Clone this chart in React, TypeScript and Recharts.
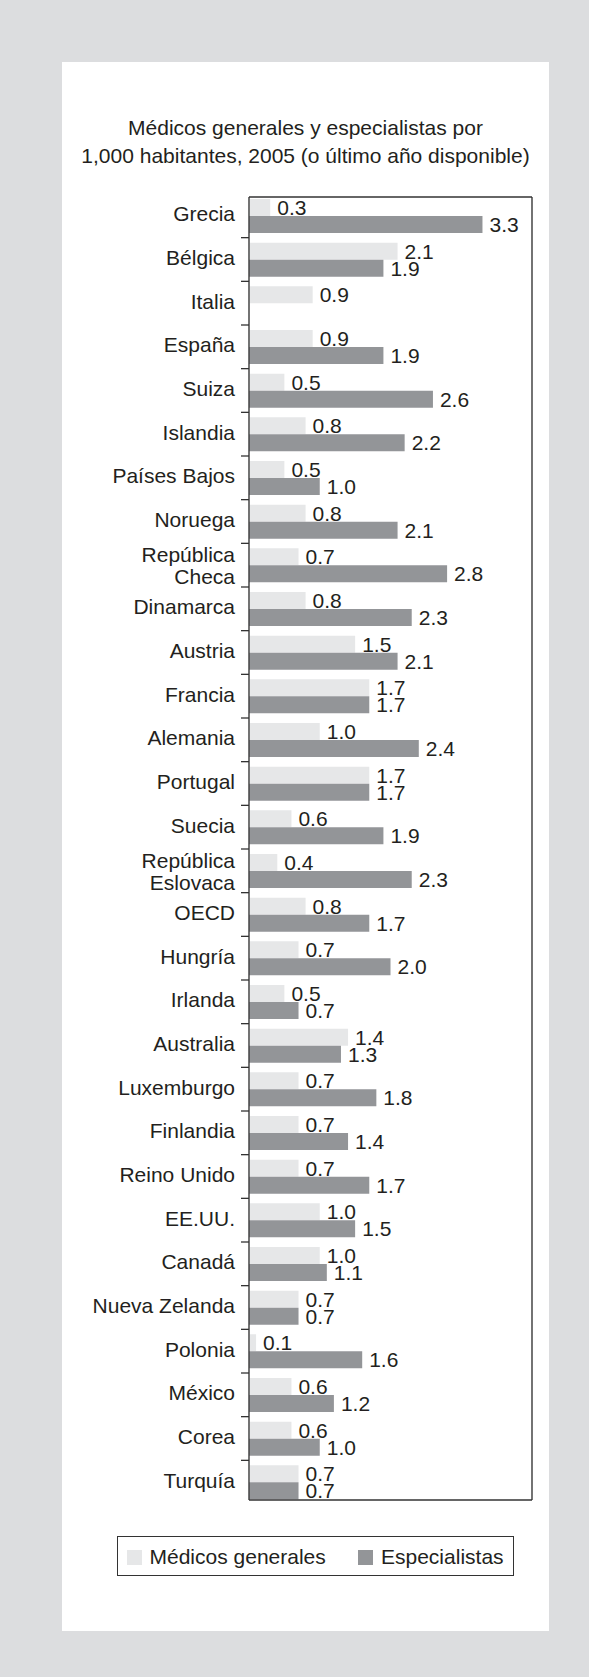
import { BarChart, Bar, XAxis, YAxis, CartesianGrid, LabelList } from "recharts";

const paises = [
  "Grecia", "Bélgica", "Italia", "España", "Suiza", "Islandia", "Países Bajos", "Noruega",
  "República\nCheca", "Dinamarca", "Austria", "Francia", "Alemania", "Portugal", "Suecia",
  "República\nEslovaca", "OECD", "Hungría", "Irlanda", "Australia", "Luxemburgo", "Finlandia",
  "Reino Unido", "EE.UU.", "Canadá", "Nueva Zelanda", "Polonia", "México", "Corea", "Turquía",
];
const generales = [
  0.3, 2.1, 0.9, 0.9, 0.5, 0.8, 0.5, 0.8, 0.7, 0.8, 1.5, 1.7, 1.0, 1.7, 0.6,
  0.4, 0.8, 0.7, 0.5, 1.4, 0.7, 0.7, 0.7, 1.0, 1.0, 0.7, 0.1, 0.6, 0.6, 0.7,
];
const especialistas = [
  3.3, 1.9, null, 1.9, 2.6, 2.2, 1.0, 2.1, 2.8, 2.3, 2.1, 1.7, 2.4, 1.7, 1.9,
  2.3, 1.7, 2.0, 0.7, 1.3, 1.8, 1.4, 1.7, 1.5, 1.1, 0.7, 1.6, 1.2, 1.0, 0.7,
];
const xTicks = [0, 1, 2, 3, 4];

const data = paises.map((pais, i) => ({
  pais,
  generales: generales[i],
  especialistas: especialistas[i],
}));

const FONT = '"Liberation Sans", Arial, Helvetica, sans-serif';
const FS = 21;
const TEXT = "#231f20";
const AXIS = "#333333";
const LIGHT = "#e6e7e8";
const DARK = "#939598";

const fmt = (v: any) => (v == null ? "" : Number(v).toFixed(1));

const PaisTick = (props: any) => {
  const { x, y, payload, index } = props;
  const half = payload && payload.offset ? payload.offset : 21.8;
  const lines = String(payload.value).split("\n");
  return (
    <g>
      {index > 0 && (
        <line x1={x + 6} x2={x + 14} y1={y - half} y2={y - half} stroke={AXIS} strokeWidth={1.3} />
      )}
      <text x={x} y={y} textAnchor="end" fontSize={FS} fill={TEXT} fontFamily={FONT}>
        {lines.map((l, i) => (
          <tspan key={i} x={x} dy={i === 0 ? (lines.length > 1 ? -3 : 5.5) : 22}>
            {l}
          </tspan>
        ))}
      </text>
    </g>
  );
};

export default function App() {
  return (
    <div
      style={{
        position: "absolute",
        left: 0,
        top: 0,
        width: 589,
        height: 1677,
        background: "#dcdddf",
        fontFamily: FONT,
        color: TEXT,
      }}
    >
      <div
        style={{ position: "absolute", left: 62, top: 62, width: 487, height: 1569, background: "#ffffff" }}
      />
      <div
        style={{
          position: "absolute",
          left: 62,
          top: 114,
          width: 487,
          textAlign: "center",
          fontSize: FS,
          lineHeight: "28px",
        }}
      >
        Médicos generales y especialistas por
        <br />
        1,000 habitantes, 2005 (o último año disponible)
      </div>
      <div style={{ position: "absolute", left: 0, top: 0 }}>
        <BarChart
          width={589}
          height={1677}
          layout="vertical"
          data={data}
          barSize={17}
          barGap={0}
          margin={{ top: 196, right: 56, left: 149, bottom: 157 }}
        >
          <CartesianGrid horizontal={false} stroke="#d6d7d9" strokeWidth={1} />
          <XAxis
            type="number"
            domain={[0, 4]}
            ticks={xTicks}
            tick={false}
            tickSize={8}
            height={20}
            axisLine={{ stroke: AXIS, strokeWidth: 1.3 }}
            tickLine={{ stroke: AXIS, strokeWidth: 1.3 }}
          />
          <XAxis
            xAxisId="top"
            orientation="top"
            type="number"
            domain={[0, 4]}
            ticks={xTicks}
            tick={false}
            tickLine={false}
            height={1}
            axisLine={{ stroke: AXIS, strokeWidth: 1.3 }}
          />
          <YAxis
            type="category"
            dataKey="pais"
            width={100}
            tickSize={8}
            tickMargin={6}
            tickLine={false}
            interval={0}
            padding={{ top: -3, bottom: -4 }}
            axisLine={{ stroke: AXIS, strokeWidth: 1.3 }}
            tick={<PaisTick />}
          />
          <YAxis
            yAxisId="right"
            orientation="right"
            type="category"
            dataKey="pais"
            width={1}
            tick={false}
            tickLine={false}
            axisLine={{ stroke: AXIS, strokeWidth: 1.3 }}
          />
          <Bar dataKey="generales" fill={LIGHT} isAnimationActive={false}>
            <LabelList
              dataKey="generales"
              position="right"
              offset={7}
              formatter={fmt}
              style={{ fontSize: FS, fill: TEXT, fontFamily: FONT }}
            />
          </Bar>
          <Bar dataKey="especialistas" fill={DARK} isAnimationActive={false}>
            <LabelList
              dataKey="especialistas"
              position="right"
              offset={7}
              formatter={fmt}
              style={{ fontSize: FS, fill: TEXT, fontFamily: FONT }}
            />
          </Bar>
        </BarChart>
      </div>
      <div
        style={{
          position: "absolute",
          left: 117,
          top: 1536,
          width: 397,
          height: 40,
          boxSizing: "border-box",
          border: `1.5px solid ${AXIS}`,
          background: "#ffffff",
          fontSize: FS,
          lineHeight: "21px",
        }}
      >
        <span style={{ position: "absolute", left: 9, top: 12.5, width: 15, height: 15, background: LIGHT }} />
        <span style={{ position: "absolute", left: 31.5, top: 9, whiteSpace: "nowrap" }}>Médicos generales</span>
        <span style={{ position: "absolute", left: 239.5, top: 12.5, width: 15, height: 15, background: DARK }} />
        <span style={{ position: "absolute", left: 263, top: 9, whiteSpace: "nowrap" }}>Especialistas</span>
      </div>
    </div>
  );
}
